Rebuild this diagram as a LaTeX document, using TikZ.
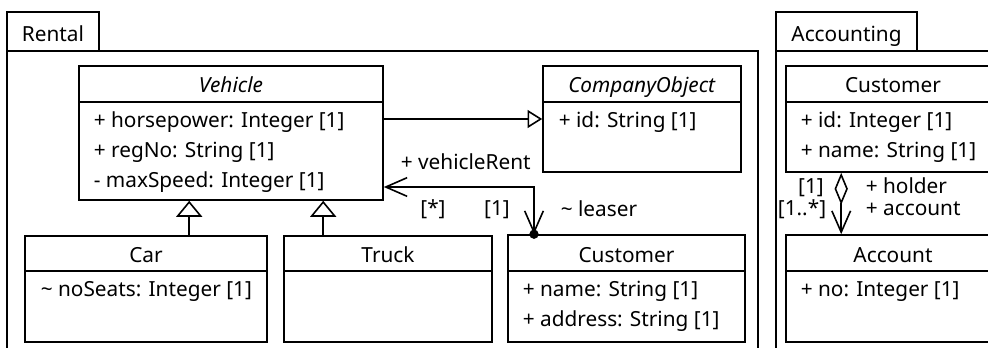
\documentclass[tikz,border=0pt]{standalone}
\usepackage{fontspec}
\setmainfont{Noto Sans}
\usetikzlibrary{arrows.meta,calc,fit}

\tikzset{
  box/.style={draw,fit={#1},inner sep=0pt},
  txt/.style={font=\fontsize{15.6}{18}\selectfont,inner sep=0pt,anchor=mid},
  attr/.style={txt,anchor=mid west},
  gen/.style={-{Triangle[open,length=12pt,width=19.5pt]}},
  gensmall/.style={-{Triangle[open,length=11pt,width=13.5pt]}},
  navtip/.tip={Straight Barb[length=16pt,width=14pt]},
}

\begin{document}
\begin{tikzpicture}[x=.75pt,y=-.75pt,line width=1.2pt]
\useasboundingbox (0,0) rectangle (988,347);
\clip (0,0) rectangle (988,347);

%Packages with their tabs
\node[box={(7,51) (758,360)}] (rental) {};
\node[box={(7,12) (99,51)}] (rentaltab) {};
\node[box={(776,51) (1010,360)}] (accounting) {};
\node[box={(776,12) (917,51)}] (accountingtab) {};
\node[txt] (rentalname) at (53,38) {Rental};
\node[txt] (accountingname) at (846.5,38) {Accounting};

%Class boxes - top row then bottom row
\foreach \n/\l/\t/\r/\b in {vehicle/79/66/383/200,compobj/543/66/741/172,acccust/786/66/1000/172,
  car/25/236/267/342,truck/284/236/492/342,customer/508/235/745/342,account/786/235/1000/342}
  \node[box={(\l,\t) (\r,\b)}] (\n) {};
%Name compartments
\foreach \l/\r/\y in {79/383/102,543/741/102,786/1000/102,25/267/271,284/492/271,508/745/271,786/1000/271}
  \draw (\l,\y) -- (\r,\y);

%Class names
\foreach \n/\x/\y/\t in {vehiclename/231/89/{\textit{Vehicle}},compobjname/642/89/{\textit{CompanyObject}},
  acccustname/893/89/Customer,carname/146/259/Car,truckname/388/259/Truck,
  customername/626.5/259/Customer,accountname/893/259/Account}
  \node[txt] (\n) at (\x,\y) {\t};

%Attributes
\foreach \n/\x/\y/\t in {hp/93/124/{+ horsepower: Integer [1]},regno/93/154/{+ regNo: String [1]},
  maxspeed/93/184/{- maxSpeed: Integer [1]},coid/558/124/{+ id: String [1]},
  custid/800/124/{+ id: Integer [1]},custname/800/154/{+ name: String [1]},
  noseats/40/293/{\textasciitilde{} noSeats: Integer [1]},
  name/522/293/{+ name: String [1]},address/522/323/{+ address: String [1]},
  accno/800/293/{+ no: Integer [1]}}
  \node[attr] (\n) at (\x,\y) {\t};

%Generalizations
\coordinate (carfoot) at ($(car.north west)+(165,0)$);
\coordinate (truckfoot) at ($(truck.north west)+(40,0)$);
\draw[gen] (carfoot) -- (carfoot |- vehicle.south);
\draw[gen] (truckfoot) -- (truckfoot |- vehicle.south);
\draw[gensmall] (vehicle.east |- compobj.west) -- (compobj.west);

%Association vehicle - customer
\coordinate (rentbend) at (534,187);
\draw[navtip-navtip] (rentbend -| vehicle.east) -- (rentbend) -- (rentbend |- customer.north);
\fill (rentbend |- customer.north) circle[radius=3.5pt];

%Aggregation customer - account
\coordinate (holdfoot) at ($(acccust.south west)+(56,0)$);
\draw[{Diamond[open,length=24pt,width=10pt]}-navtip] (holdfoot) -- (holdfoot |- account.north);

%Role names and multiplicities
\foreach \n/\x/\y/\t in {rentrole/400/166/{+ vehicleRent},leaserrole/560/213/{\textasciitilde{} leaser},
  holderrole/865/190/{+ holder},accountrole/865/212/{+ account}}
  \node[attr] (\n) at (\x,\y) {\t};
\foreach \n/\x/\y/\t in {rentmult/433/212/{[*]},leasermult/497/212/{[1]},
  holdermult/811/190/{[1]},accountmult/802/212/{[1..*]}}
  \node[txt] (\n) at (\x,\y) {\t};

\end{tikzpicture}
\end{document}
